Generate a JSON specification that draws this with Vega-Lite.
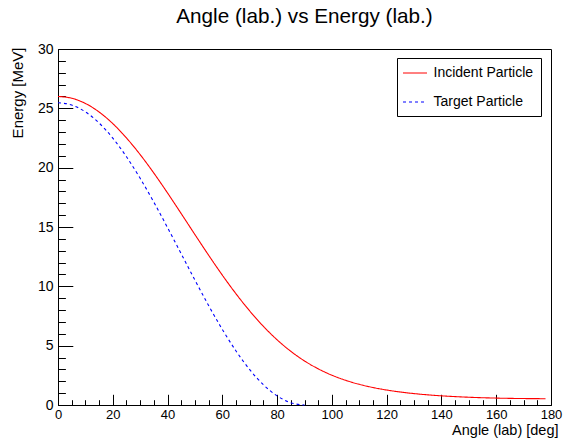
{
  "$schema": "https://vega.github.io/schema/vega-lite/v6.json",
  "width": 493,
  "height": 356,
  "autosize": {"type": "none"},
  "padding": {"left": 58, "top": 49, "right": 17, "bottom": 33},
  "background": "white",
  "title": {"text": "Angle (lab.) vs Energy (lab.)", "font": "Liberation Sans", "fontSize": 20.7, "fontWeight": "normal", "color": "black", "anchor": "middle", "offset": 14},
  "config": {
    "view": {"stroke": "black", "strokeWidth": 1},
    "axis": {"grid": false, "labelFont": "Liberation Sans", "titleFont": "Liberation Sans", "labelColor": "black", "titleColor": "black", "tickColor": "black", "domainColor": "black", "titleFontWeight": "normal"}
  },
  "data": {"values": [
    {"angle": 0, "energy": 26.000, "particle": "Incident Particle"},
    {"angle": 5, "energy": 25.852, "particle": "Incident Particle"},
    {"angle": 10, "energy": 25.412, "particle": "Incident Particle"},
    {"angle": 15, "energy": 24.692, "particle": "Incident Particle"},
    {"angle": 20, "energy": 23.714, "particle": "Incident Particle"},
    {"angle": 25, "energy": 22.506, "particle": "Incident Particle"},
    {"angle": 30, "energy": 21.101, "particle": "Incident Particle"},
    {"angle": 35, "energy": 19.540, "particle": "Incident Particle"},
    {"angle": 40, "energy": 17.866, "particle": "Incident Particle"},
    {"angle": 45, "energy": 16.124, "particle": "Incident Particle"},
    {"angle": 50, "energy": 14.360, "particle": "Incident Particle"},
    {"angle": 55, "energy": 12.620, "particle": "Incident Particle"},
    {"angle": 60, "energy": 10.943, "particle": "Incident Particle"},
    {"angle": 65, "energy": 9.368, "particle": "Incident Particle"},
    {"angle": 70, "energy": 7.922, "particle": "Incident Particle"},
    {"angle": 75, "energy": 6.626, "particle": "Incident Particle"},
    {"angle": 80, "energy": 5.493, "particle": "Incident Particle"},
    {"angle": 85, "energy": 4.525, "particle": "Incident Particle"},
    {"angle": 90, "energy": 3.714, "particle": "Incident Particle"},
    {"angle": 95, "energy": 3.049, "particle": "Incident Particle"},
    {"angle": 100, "energy": 2.512, "particle": "Incident Particle"},
    {"angle": 105, "energy": 2.082, "particle": "Incident Particle"},
    {"angle": 110, "energy": 1.742, "particle": "Incident Particle"},
    {"angle": 115, "energy": 1.473, "particle": "Incident Particle"},
    {"angle": 120, "energy": 1.261, "particle": "Incident Particle"},
    {"angle": 125, "energy": 1.093, "particle": "Incident Particle"},
    {"angle": 130, "energy": 0.961, "particle": "Incident Particle"},
    {"angle": 135, "energy": 0.856, "particle": "Incident Particle"},
    {"angle": 140, "energy": 0.772, "particle": "Incident Particle"},
    {"angle": 145, "energy": 0.706, "particle": "Incident Particle"},
    {"angle": 150, "energy": 0.654, "particle": "Incident Particle"},
    {"angle": 155, "energy": 0.613, "particle": "Incident Particle"},
    {"angle": 160, "energy": 0.582, "particle": "Incident Particle"},
    {"angle": 165, "energy": 0.559, "particle": "Incident Particle"},
    {"angle": 170, "energy": 0.543, "particle": "Incident Particle"},
    {"angle": 175, "energy": 0.534, "particle": "Incident Particle"},
    {"angle": 178, "energy": 0.531, "particle": "Incident Particle"},
    {"angle": 0, "energy": 25.469, "particle": "Target Particle"},
    {"angle": 5, "energy": 25.276, "particle": "Target Particle"},
    {"angle": 10, "energy": 24.701, "particle": "Target Particle"},
    {"angle": 15, "energy": 23.763, "particle": "Target Particle"},
    {"angle": 20, "energy": 22.490, "particle": "Target Particle"},
    {"angle": 25, "energy": 20.920, "particle": "Target Particle"},
    {"angle": 30, "energy": 19.102, "particle": "Target Particle"},
    {"angle": 35, "energy": 17.090, "particle": "Target Particle"},
    {"angle": 40, "energy": 14.946, "particle": "Target Particle"},
    {"angle": 45, "energy": 12.735, "particle": "Target Particle"},
    {"angle": 50, "energy": 10.523, "particle": "Target Particle"},
    {"angle": 55, "energy": 8.379, "particle": "Target Particle"},
    {"angle": 60, "energy": 6.367, "particle": "Target Particle"},
    {"angle": 65, "energy": 4.549, "particle": "Target Particle"},
    {"angle": 70, "energy": 2.979, "particle": "Target Particle"},
    {"angle": 75, "energy": 1.706, "particle": "Target Particle"},
    {"angle": 80, "energy": 0.768, "particle": "Target Particle"},
    {"angle": 85, "energy": 0.193, "particle": "Target Particle"},
    {"angle": 90, "energy": 0.0, "particle": "Target Particle"}
  ]},
  "resolve": {"axis": {"x": "independent", "y": "independent"}},
  "layer": [
    {
      "transform": [{"filter": "datum.particle == 'Incident Particle'"}],
      "mark": {"type": "line", "strokeWidth": 1.1, "interpolate": "monotone"},
      "encoding": {
        "x": {"field": "angle", "type": "quantitative", "scale": {"domain": [0, 180], "nice": false, "zero": false},
          "axis": {"orient": "bottom", "title": "Angle (lab) [deg]", "values": [0, 20, 40, 60, 80, 100, 120, 140, 160, 180], "tickSize": -10.7, "labelPadding": 14, "labelFontSize": 13, "labelFlush": false, "labelOverlap": false, "domain": true, "titleFontSize": 14.5, "titleAnchor": "end", "titleAlign": "right", "titleX": 500, "titleY": 29.5, "titleBaseline": "alphabetic"}},
        "y": {"field": "energy", "type": "quantitative", "scale": {"domain": [0, 30], "nice": false, "zero": false},
          "axis": {"orient": "left", "title": "Energy [MeV]", "values": [0, 5, 10, 15, 20, 25, 30], "tickSize": -14.8, "labelPadding": 19.8, "labelFontSize": 14, "labelFlush": false, "labelOverlap": false, "labelBaseline": "middle", "domain": true, "titleFontSize": 15, "titleAngle": -90, "titleAnchor": "end", "titleAlign": "right", "titleBaseline": "alphabetic", "titleX": -36, "titleY": -2}},
        "color": {"field": "particle", "type": "nominal", "scale": {"domain": ["Incident Particle", "Target Particle"], "range": ["#ff0000", "#0000ff"]},
          "legend": {"orient": "none", "legendX": 339, "legendY": 9, "title": null, "symbolType": "M-1.6,0H1.6", "symbolSize": 225, "symbolOffset": 3, "symbolStrokeWidth": 1, "labelFontSize": 14, "labelFont": "Liberation Sans", "labelColor": "black", "padding": 7, "strokeColor": "black", "fillColor": "white", "rowPadding": 14, "labelOffset": 10.5}},
        "strokeDash": {"field": "particle", "type": "nominal", "scale": {"domain": ["Incident Particle", "Target Particle"], "range": [[1, 0], [3, 3]]},
          "legend": {"orient": "none", "legendX": 339, "legendY": 9, "title": null, "symbolType": "M-1.6,0H1.6", "symbolSize": 225, "symbolOffset": 3, "symbolStrokeWidth": 1, "labelFontSize": 14, "labelFont": "Liberation Sans", "labelColor": "black", "padding": 7, "strokeColor": "black", "fillColor": "white", "rowPadding": 14, "labelOffset": 10.5}}
      }
    },
    {
      "transform": [{"filter": "datum.particle == 'Target Particle'"}],
      "mark": {"type": "line", "strokeWidth": 1.1, "interpolate": "monotone"},
      "encoding": {
        "x": {"field": "angle", "type": "quantitative", "scale": {"domain": [0, 180], "nice": false, "zero": false},
          "axis": {"orient": "bottom", "title": null, "values": [5, 10, 15, 25, 30, 35, 45, 50, 55, 65, 70, 75, 85, 90, 95, 105, 110, 115, 125, 130, 135, 145, 150, 155, 165, 170, 175], "tickSize": -5.3, "labels": false, "domain": false}},
        "y": {"field": "energy", "type": "quantitative", "scale": {"domain": [0, 30], "nice": false, "zero": false},
          "axis": {"orient": "left", "title": null, "values": [1, 2, 3, 4, 6, 7, 8, 9, 11, 12, 13, 14, 16, 17, 18, 19, 21, 22, 23, 24, 26, 27, 28, 29], "tickSize": -7.4, "labels": false, "domain": false}},
        "color": {"field": "particle", "type": "nominal"},
        "strokeDash": {"field": "particle", "type": "nominal"}
      }
    }
  ]
}
